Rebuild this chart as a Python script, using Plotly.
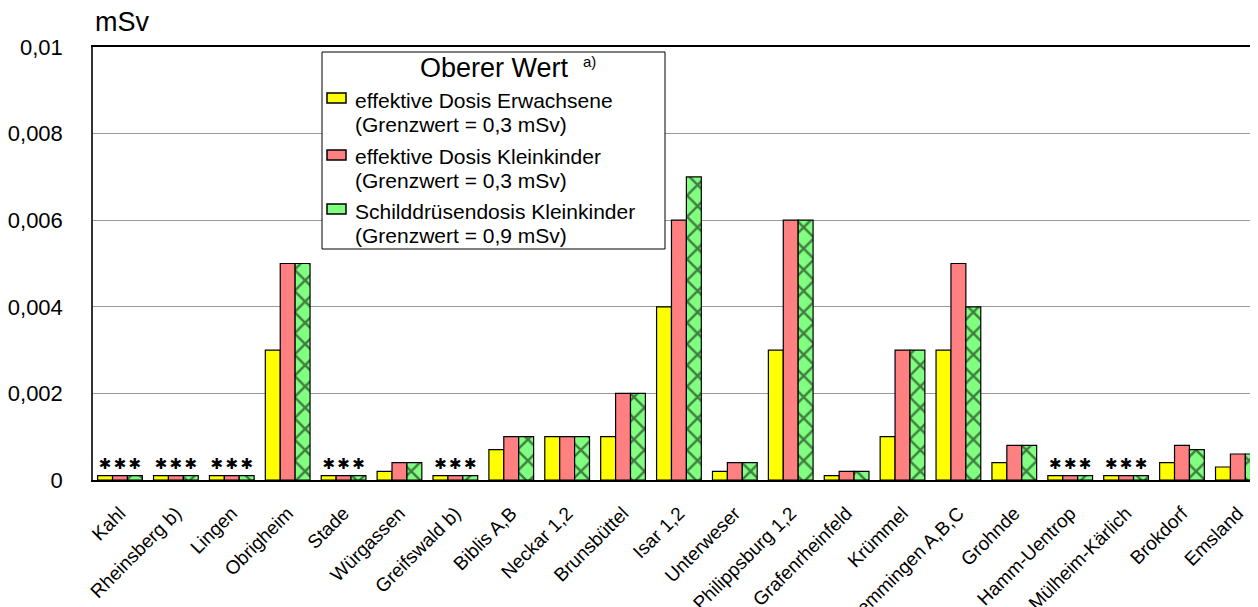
import plotly.graph_objects as go

# Kernkraftwerke (x categories)
standorte = ["Kahl", "Rheinsberg b)", "Lingen", "Obrigheim", "Stade", "Würgassen",
             "Greifswald b)", "Biblis A,B", "Neckar 1,2", "Brunsbüttel", "Isar 1,2",
             "Unterweser", "Philippsburg 1,2", "Grafenrheinfeld", "Krümmel",
             "Gundremmingen A,B,C", "Grohnde", "Hamm-Uentrop", "Mülheim-Kärlich",
             "Brokdorf", "Emsland"]

# Oberer Wert in mSv
dosis_erwachsene = [0.0001, 0.0001, 0.0001, 0.003, 0.0001, 0.0002, 0.0001, 0.0007, 0.001, 0.001,
                    0.004, 0.0002, 0.003, 0.0001, 0.001, 0.003, 0.0004, 0.0001, 0.0001, 0.0004, 0.0003]
dosis_kleinkinder = [0.0001, 0.0001, 0.0001, 0.005, 0.0001, 0.0004, 0.0001, 0.001, 0.001, 0.002,
                     0.006, 0.0004, 0.006, 0.0002, 0.003, 0.005, 0.0008, 0.0001, 0.0001, 0.0008, 0.0006]
schilddruese_kleinkinder = [0.0001, 0.0001, 0.0001, 0.005, 0.0001, 0.0004, 0.0001, 0.001, 0.001, 0.002,
                            0.007, 0.0004, 0.006, 0.0002, 0.003, 0.004, 0.0008, 0.0001, 0.0001, 0.0007, 0.0006]

# Anlagen, bei denen nur Sternchen statt Werten stehen
sternchen = ["Kahl", "Rheinsberg b)", "Lingen", "Stade", "Greifswald b)", "Hamm-Uentrop", "Mülheim-Kärlich"]

# Legende
legende_titel = "Oberer Wert"
legende_zeilen = [("effektive Dosis Erwachsene", "(Grenzwert = 0,3 mSv)"),
                  ("effektive Dosis Kleinkinder", "(Grenzwert = 0,3 mSv)"),
                  ("Schilddrüsendosis Kleinkinder", "(Grenzwert = 0,9 mSv)")]
farben = ["#FFFF00", "#FF8080", "#80FF80"]

FONT = "Liberation Sans, Arial, sans-serif"
stern_text = ["✱" if s in sternchen else "" for s in standorte]

# the page puts the figure 8px in from the top-left, plot area on screen is 93..1258 x 47..480
def px(sx):
    return (sx - 93) / 1165.0

def py(sy):
    return (480 - sy) / 433.0

fig = go.Figure()

werte = [dosis_erwachsene, dosis_kleinkinder, schilddruese_kleinkinder]
for i, (y, name) in enumerate(zip(werte, legende_zeilen)):
    marker = dict(color=farben[i], line=dict(color="black", width=1.2))
    if i == 2:
        marker["pattern"] = dict(shape="x", fgcolor="black", bgcolor=farben[i],
                                 size=15, solidity=0.3, fillmode="overlay")
    fig.add_trace(go.Bar(
        x=standorte, y=y, name=name[0],
        marker=marker,
        text=stern_text, textposition="outside", textangle=0, constraintext="none",
        outsidetextfont=dict(size=15, color="black", family="DejaVu Sans"),
        cliponaxis=False,
    ))

# hand-drawn legend box
shapes = [dict(type="rect", xref="paper", yref="paper",
               x0=px(322), x1=px(665), y0=py(249), y1=py(52),
               line=dict(color="black", width=1), fillcolor="white", layer="above")]
annotations = [
    dict(text="mSv", xref="paper", yref="paper", x=0, y=1,
         xanchor="left", yanchor="bottom", yshift=8, showarrow=False,
         font=dict(family=FONT, size=27)),
    dict(text=legende_titel, xref="paper", yref="paper", x=px(494), y=py(68),
         xanchor="center", yanchor="middle", showarrow=False,
         font=dict(family=FONT, size=27)),
    dict(text="a)", xref="paper", yref="paper", x=px(581), y=py(62),
         xanchor="left", yanchor="middle", showarrow=False,
         font=dict(family=FONT, size=15)),
]
basislinien = [(107, 131), (163, 187), (218, 242)]
symbol_y = [98, 155, 209]
for i, ((z1, z2), (b1, b2)) in enumerate(zip(legende_zeilen, basislinien)):
    shapes.append(dict(type="rect", xref="paper", yref="paper",
                       x0=px(327), x1=px(346), y0=py(symbol_y[i] + 5), y1=py(symbol_y[i] - 5),
                       line=dict(color="black", width=1.5), fillcolor=farben[i], layer="above"))
    for txt, b in ((z1, b1), (z2, b2)):
        annotations.append(dict(text=txt, xref="paper", yref="paper", x=px(353), y=py(b - 7),
                                xanchor="left", yanchor="middle", showarrow=False,
                                font=dict(family=FONT, size=21)))

fig.update_layout(
    width=1258, height=607,
    margin=dict(l=85, r=8, t=39, b=135),
    plot_bgcolor="white",
    paper_bgcolor="white",
    separators=",.",
    font=dict(family=FONT, size=20, color="black"),
    barmode="group",
    bargap=0.2,
    bargroupgap=0,
    showlegend=False,
    shapes=shapes,
    annotations=annotations,
)

fig.update_xaxes(
    type="category",
    range=[-0.483, 20.36],
    tickangle=-45,
    tickfont=dict(family=FONT, size=19),
    showline=True, linecolor="black", linewidth=1.5, mirror=True,
    showgrid=False, ticks="", automargin=False, ticklabelstandoff=13,
)
fig.update_yaxes(
    range=[0, 0.01],
    dtick=0.002,
    tickfont=dict(family=FONT, size=22),
    showline=True, linecolor="#333333", linewidth=1.5,
    showgrid=True, gridcolor="#999999", gridwidth=1,
    zeroline=False, ticks="", ticklabelstandoff=24, automargin=False,
)

fig.write_html("out.html")
